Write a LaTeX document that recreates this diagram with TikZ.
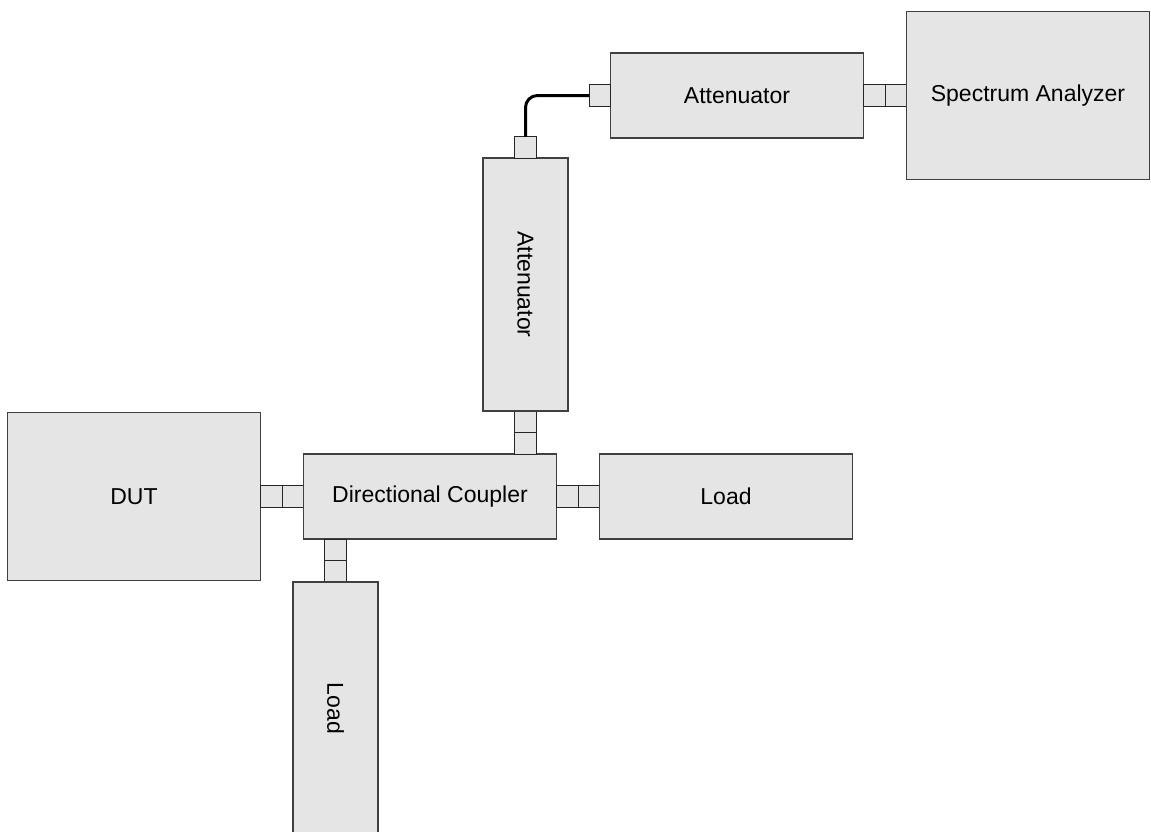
\documentclass[tikz,border=0pt]{standalone}
\usepackage{fontspec}
\setmainfont{Liberation Sans}
\usepackage{graphicx}
\usetikzlibrary{positioning}

\begin{document}
\begin{tikzpicture}[
  x=1pt, y=1pt,
  node distance=0pt,
  unit/.style={draw=black!75, fill=gray!20, line width=1.1pt, outer sep=0pt, inner sep=0pt, font=\fontsize{23}{27}\selectfont},
  wide/.style={unit, minimum width=253pt, minimum height=85pt},
  tall/.style={unit, minimum width=85pt, minimum height=253pt},
  big/.style={unit, minimum width=253pt, minimum height=168pt},
  plug/.style={draw=black!85, fill=gray!20, line width=1pt, minimum size=21.5pt, inner sep=0pt, outer sep=0pt},
  cable/.style={line width=3pt, rounded corners=12pt}
]
\useasboundingbox (0,0) rectangle (1151,-831);
\clip (0,0) rectangle (1151,-831);

% main line
\node[big] (dut) at (134,-496.5) {DUT};
\node[plug, right=of dut] (p1) {};
\node[plug, right=of p1] (p2) {};
\node[wide, right=of p2] (coupler) {Directional Coupler};
\node[plug, right=of coupler] (p3) {};
\node[plug, right=of p3] (p4) {};
\node[wide, right=of p4] (loadr) {Load};

% through port down
\node[plug, below=of coupler.south west, xshift=32pt] (p5) {};
\node[plug, below=of p5] (p6) {};
\node[tall, below=of p6] (loadb) {\rotatebox{-90}{Load}};

% coupled port up
\node[plug, above=of coupler.north east, xshift=-31pt] (p7) {};
\node[plug, above=of p7] (p8) {};
\node[tall, above=of p8] (att1) {\rotatebox{-90}{Attenuator}};
\node[plug, above=of att1] (p9) {};

% to the analyzer
\node[wide] (att2) at (737,-95.5) {Attenuator};
\node[plug, left=of att2] (p10) {};
\node[plug, right=of att2] (p11) {};
\node[plug, right=of p11] (p12) {};
\node[big, right=of p12, minimum width=243pt] (sa) {Spectrum Analyzer};

\draw[cable] (p9.north) |- (p10.west);
\end{tikzpicture}
\end{document}
